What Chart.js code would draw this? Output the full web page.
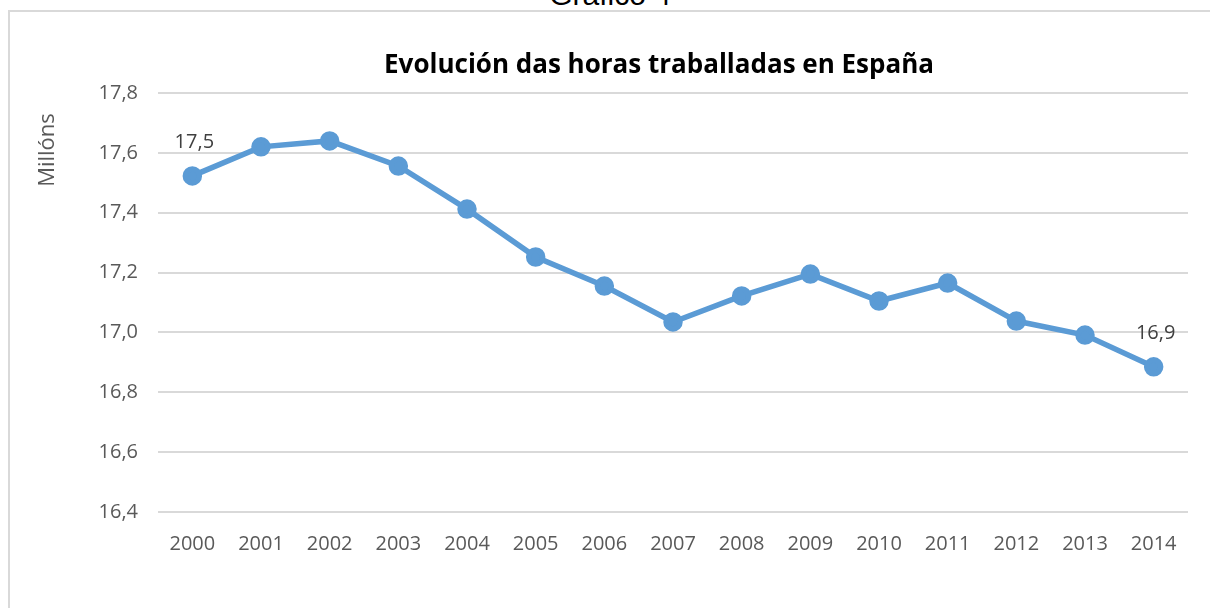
<!DOCTYPE html>
<html>
<head>
<meta charset="utf-8">
<script src="https://cdn.jsdelivr.net/npm/chart.js@4"></script>
<style>
  html, body { margin: 0; padding: 0; background: #fff; overflow: hidden; }
  body { width: 1210px; height: 608px; position: relative; }
  #sup { position: absolute; top: -22px; left: 0; width: 1220px; text-align: center;
         font: 30px "Liberation Sans", Arial, sans-serif; color: #000; }
  #box { position: absolute; left: 8px; top: 10px; width: 1210px; height: 610px;
         border-left: 2px solid #d9d9d9; border-top: 2px solid #d9d9d9; }
  #wrap { position: absolute; left: 10px; top: 12px; width: 1200px; height: 596px; }
</style>
</head>
<body>
<div id="sup">Gráfico 4</div>
<div id="box"></div>
<div id="wrap"><canvas id="chart"></canvas></div>
<script>
// years on the x axis
var years = ['2000', '2001', '2002', '2003', '2004', '2005', '2006', '2007',
             '2008', '2009', '2010', '2011', '2012', '2013', '2014'];
// hours worked, millions
var hours = [17.523, 17.620, 17.640, 17.556, 17.412, 17.252, 17.155, 17.035,
             17.122, 17.195, 17.105, 17.165, 17.038, 16.991, 16.885];
// only first and last point get a label
var pointLabels = ['17,5', '', '', '', '', '', '', '', '', '', '', '', '', '', '16,9'];
var yTicks = [16.4, 16.6, 16.8, 17.0, 17.2, 17.4, 17.6, 17.8];

var chartTitle = 'Evolución das horas traballadas en España';
var yTitle = 'Millóns';

var tickFont = { family: '"Open Sans", sans-serif', size: 20 };

// title, axis title and the two point labels
var extras = {
    id: 'extras',
    afterDatasetsDraw: function (chart) {
        var ctx = chart.ctx;
        ctx.save();
        ctx.fillStyle = '#000';
        ctx.font = 'bold 26px "Open Sans", sans-serif';
        ctx.textAlign = 'center';
        ctx.textBaseline = 'middle';
        ctx.fillText(chartTitle, 649, 54);

        ctx.fillStyle = '#595959';
        ctx.font = '22px "Open Sans", sans-serif';
        ctx.translate(38, 138);
        ctx.rotate(-Math.PI / 2);
        ctx.fillText(yTitle, 0, 0);
        ctx.restore();

        ctx.save();
        ctx.fillStyle = '#404040';
        ctx.font = '20px "Open Sans", sans-serif';
        ctx.textAlign = 'center';
        ctx.textBaseline = 'middle';
        var meta = chart.getDatasetMeta(0);
        meta.data.forEach(function (pt, i) {
            if (pointLabels[i]) {
                ctx.fillText(pointLabels[i], pt.x + 2, pt.y - 34);
            }
        });
        ctx.restore();
    }
};

new Chart(document.getElementById('chart'), {
    type: 'line',
    data: {
        labels: years,
        datasets: [{
            data: hours,
            borderColor: '#5b9bd5',
            backgroundColor: '#5b9bd5',
            borderWidth: 5.5,
            pointRadius: 7,
            pointHoverRadius: 7,
            tension: 0
        }]
    },
    options: {
        responsive: true,
        maintainAspectRatio: false,
        animation: false,
        events: [],
        layout: { padding: { top: 81, right: 22, bottom: 0, left: 0 } },
        plugins: {
            legend: { display: false },
            tooltip: { enabled: false },
            title: { display: false }
        },
        scales: {
            x: {
                offset: true,
                grid: { display: false, drawTicks: false },
                border: { display: false },
                ticks: { color: '#595959', font: tickFont, padding: 20, maxRotation: 0 },
                afterFit: function (s) { s.height = 96; }
            },
            y: {
                min: 16.4,
                max: 17.8,
                grid: { color: '#d9d9d9', lineWidth: 2, drawTicks: false },
                border: { display: false },
                afterBuildTicks: function (s) {
                    s.ticks = yTicks.map(function (v) { return { value: v }; });
                },
                ticks: {
                    color: '#595959',
                    font: tickFont,
                    padding: 20,
                    callback: function (v) { return v.toFixed(1).replace('.', ','); }
                },
                afterFit: function (s) { s.width = 148; }
            }
        }
    },
    plugins: [extras]
});
</script>
</body>
</html>
